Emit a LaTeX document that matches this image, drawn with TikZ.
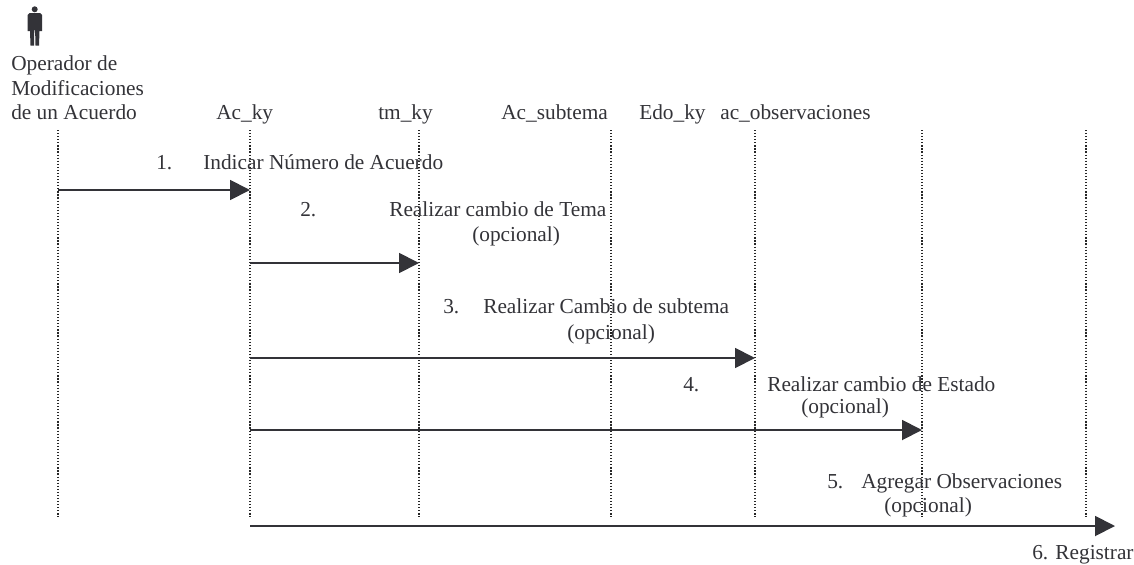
\documentclass[tikz,border=0pt]{standalone}
\usepackage{fontspec}
\setmainfont{Liberation Serif}
\usetikzlibrary{calc,positioning,arrows.meta}
\definecolor{inkgray}{HTML}{333338}
\tikzset{
  label text/.style={text=inkgray,inner sep=0pt,anchor=base west,font=\fontsize{16pt}{18.4pt}\selectfont},
  lifeline/.style={dash pattern=on 0.9pt off 1.4pt,black!85,line width=0.8pt},
  message/.style={-{Triangle[length=15pt,width=15pt]},inkgray,line width=1.4pt}
}
\begin{document}
\begin{tikzpicture}[x=0.75pt,y=-0.75pt]
		\useasboundingbox (0,0) rectangle (1134,564);
		% actor
		\fill[inkgray] (34.7,9.3) circle (3);
		\fill[inkgray] (29.5,13) -- (40,13) -- (42,15) -- (42,31) -- (39.5,31) -- (39,45.5) -- (35.5,45.5) -- (35.1,30) -- (34.3,30) -- (34,45.5) -- (30.5,45.5) -- (30,31) -- (27.7,31) -- (27.7,15) --cycle;
		\node(actor) [label text,align=left,anchor=north west] at (11,55.5) {Operador de\\Modificaciones\\de un Acuerdo};
		% headers
		\node(h1) [label text] at (216,119) {Ac\_ky};
		\node(h2) [label text] at (378,119) {tm\_ky};
		\node(h3) [label text] at (501,119) {Ac\_subtema};
		\node(h4) [label text] at (639,119) {Edo\_ky};
		\node(h5) [label text] at (720,119) {ac\_observaciones};
		% lifelines
		\foreach \name/\x in {op/58,ac/250,tm/419,sub/611,edo/755,obs/922,reg/1086} {
			\coordinate (\name top) at (\x,130);
			\coordinate (\name end) at (\x,517);
			\draw[lifeline] (\name top) -- (\name end);
		}
		% messages
		\coordinate (m1a) at (58,190);  \coordinate (m1b) at (250,190);
		\coordinate (m2a) at (250,263); \coordinate (m2b) at (419,263);
		\coordinate (m3a) at (250,358); \coordinate (m3b) at (755,358);
		\coordinate (m4a) at (250,430); \coordinate (m4b) at (922,430);
		\coordinate (m5a) at (250,526); \coordinate (m5b) at (1115,526);
		\draw[message] (m1a) -- (m1b);
		\draw[message] (m2a) -- (m2b);
		\draw[message] (m3a) -- (m3b);
		\draw[message] (m4a) -- (m4b);
		\draw[message] (m5a) -- (m5b);
		% labels
		\node(n1) [label text] at (156,169) {1.};
		\node(t1) [label text] at (203,169) {Indicar Número de Acuerdo};
		\node(n2) [label text] at (300,216) {2.};
		\node(t2) [label text] at (389,216) {Realizar cambio de Tema};
		\node(o2) [label text] at (472,241) {(opcional)};
		\node(n3) [label text] at (443,313) {3.};
		\node(t3) [label text] at (483,313) {Realizar Cambio de subtema};
		\node(o3) [label text] at (567,339) {(opcional)};
		\node(n4) [label text] at (683,391) {4.};
		\node(t4) [label text] at (767,391) {Realizar cambio de Estado};
		\node(o4) [label text] at (801,413) {(opcional)};
		\node(n5) [label text] at (827,488) {5.};
		\node(t5) [label text] at (861,488) {Agregar Observaciones};
		\node(o5) [label text] at (884,512) {(opcional)};
		\node(n6) [label text] at (1032,559) {6. Registrar};
	\end{tikzpicture}
\end{document}
